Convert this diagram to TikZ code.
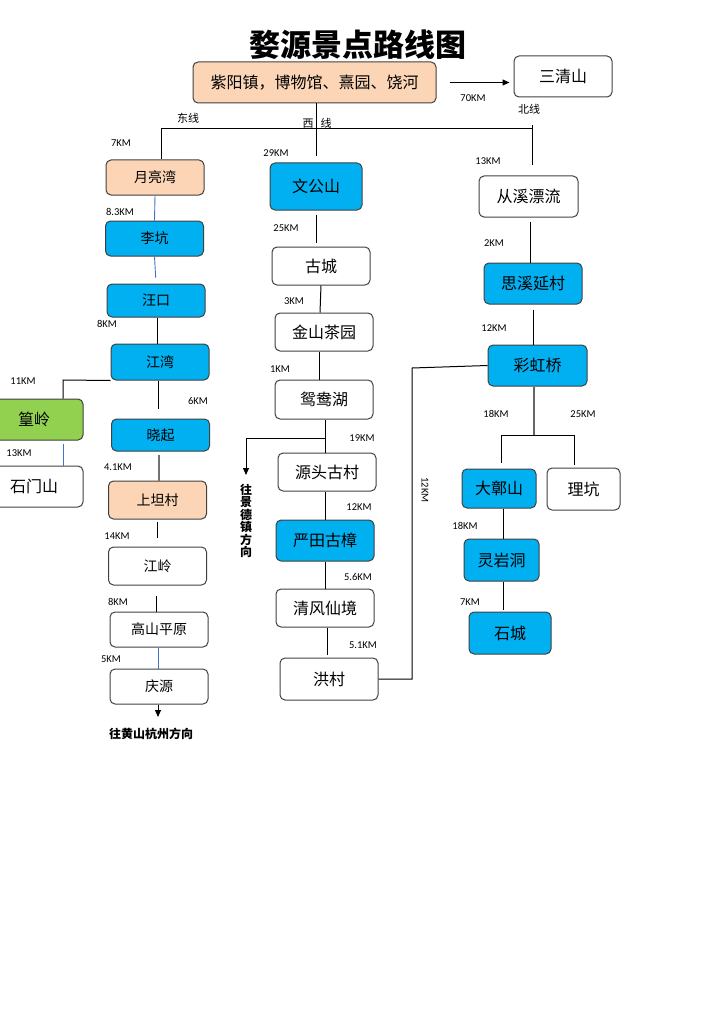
\documentclass[tikz,border=0pt]{standalone}
\usepackage{fontspec}
\setmainfont{Carlito}
\newfontfamily\cjk{Noto Sans CJK SC}
\usetikzlibrary{arrows.meta}
\definecolor{peach}{HTML}{FBD5B5}
\definecolor{sky}{HTML}{00B0F0}
\definecolor{leaf}{HTML}{92D050}
\definecolor{edge}{HTML}{404040}
\definecolor{bline}{HTML}{4472C4}

\begin{document}
\begin{tikzpicture}[x=1pt, y=-1pt,
    spot/.style={draw=edge, line width=1pt, rounded corners=5pt, inner sep=0pt,
        minimum width=98pt, minimum height=38pt, font=\cjk\fontsize{16}{18}\selectfont},
    small/.style={font=\cjk\fontsize{14}{16}\selectfont},
    km/.style={font=\fontsize{10.5}{12}\selectfont, inner sep=0pt},
    lbl/.style={font=\cjk\fontsize{11}{13}\selectfont, inner sep=0pt},
    link/.style={line width=1pt},
    blink/.style={bline, line width=0.9pt},
    arr/.style={-{Triangle[length=7pt,width=6pt]}, line width=1pt}
]
\useasboundingbox (0,0) rectangle (715,1011);

\node[font=\cjk\bfseries\fontsize{31}{34}\selectfont] (title) at (358,45) {婺源景点路线图};

% start and north line
\node[spot, fill=peach, minimum width=243pt, minimum height=41pt] (zyz) at (314.5,82.5) {紫阳镇，博物馆、熹园、饶河};
\node[spot, minimum height=41pt] (sanqing) at (563,76.5) {三清山};
\draw[arr, shorten <=13pt, shorten >=4pt] (zyz.east) -- (zyz.east -| sanqing.west);
\node[km] (k70) at (473,98) {70KM};
\node[lbl] (beixian) at (529,109) {北线};

% split
\coordinate (east) at (161,129);
\coordinate (north) at (532,129);
\draw[link] (east) -- (north);
\draw[link] (north) -- ++(0,-4);
\node[lbl] (dongxian) at (188,118) {东线};
\node[lbl] (xixian) at (317,123) {西\hspace{7pt}线};

% east line
\node[spot, small, fill=peach, minimum height=35pt] (yueliang) at (155,177.5) {月亮湾};
\node[spot, small, fill=sky, minimum height=35pt] (likeng) at (154.5,238.5) {李坑};
\node[spot, small, fill=sky, minimum height=33pt] (wangkou) at (156,300.5) {汪口};
\node[spot, small, fill=sky, minimum height=36pt] (jiangwan) at (160,362) {江湾};
\node[spot, fill=leaf, minimum height=41pt] (huangling) at (34,419.5) {篁岭};
\node[spot, minimum height=41pt] (shimen) at (34,486.5) {石门山};
\node[spot, small, fill=sky, minimum height=32pt] (xiaoqi) at (160.5,435) {晓起};
\node[spot, small, fill=peach] (shangtan) at (157.5,500) {上坦村};
\node[spot, small] (jiangling) at (157.5,566) {江岭};
\node[spot, small, minimum height=35pt] (gaoshan) at (159,629.5) {高山平原};
\node[spot, small, minimum height=35pt] (qingyuan) at (159,686.5) {庆源};
\coordinate (hsdir) at (158,717);
\node[font=\cjk\bfseries\fontsize{12}{14}\selectfont] (hstext) at (151,734) {往黄山杭州方向};

\draw[link] (east) -- (east |- yueliang.north);
\draw[blink] (yueliang.south) -- (likeng.north);
\draw[blink, shorten >=6pt] (likeng.south) -- (wangkou.north);
\draw[link] (wangkou.south -| 157,0) -- (jiangwan.north -| 157,0);
\coordinate (hl) at (63,380);
\draw[link] (jiangwan.south west) -- (hl) -- (hl |- huangling.north);
\draw[blink, shorten <=3pt] (hl |- huangling.south) -- (hl |- shimen.north);
\draw[link, shorten >=10pt] (jiangwan.south -| 158,0) -- (xiaoqi.north -| 158,0);
\draw[link, black!55, line width=1.5pt, shorten <=3pt] (xiaoqi.south -| 159,0) -- (shangtan.north -| 159,0);
\draw[link, shorten <=2pt, shorten >=9pt] (shangtan.south) -- (jiangling.north);
\draw[link, shorten <=10pt] (jiangling.south -| 156,0) -- (gaoshan.north -| 156,0);
\draw[blink] (gaoshan.south -| 158,0) -- (qingyuan.north -| 158,0);
\draw[arr] (qingyuan.south -| hsdir) -- (hsdir);

\node[km] (k7) at (121,143) {7KM};
\node[km] (k83) at (120,212) {8.3KM};
\node[km] (k8a) at (107,324) {8KM};
\node[km] (k11) at (23,381) {11KM};
\node[km] (k6) at (198,401) {6KM};
\node[km] (k13a) at (19,453) {13KM};
\node[km] (k41) at (118,467) {4.1KM};
\node[km] (k14) at (117,536) {14KM};
\node[km] (k8b) at (118,602) {8KM};
\node[km] (k5) at (111,659) {5KM};

% west line
\node[spot, fill=sky, minimum width=92pt, minimum height=47pt] (wengong) at (316,186.5) {文公山};
\node[spot] (gucheng) at (321,266) {古城};
\node[spot] (jinshan) at (324,332) {金山茶园};
\node[spot, minimum height=39pt] (yuanyang) at (324,399.5) {鸳鸯湖};
\node[spot] (yuantou) at (327,472) {源头古村};
\node[spot, fill=sky, minimum height=41pt] (yantian) at (325,540.5) {严田古樟};
\node[spot] (qingfeng) at (325,608) {清风仙境};
\node[spot, minimum height=42pt] (hongcun) at (329,679) {洪村};

\draw[link, shorten >=6pt] (zyz.south -| wengong.north) -- (wengong.north);
\draw[link, shorten <=4pt, shorten >=4pt] (wengong.south) -- (wengong.south |- gucheng.north);
\draw[link] (gucheng.south) -- (jinshan.north -| 320,0);
\draw[link] (jinshan.south -| 319,0) -- (yuanyang.north -| 319,0);
\coordinate (wj) at (325,438);
\coordinate (wjturn) at (246,438);
\coordinate (wjend) at (246,475);
\draw[link] (yuanyang.south -| wj) -- (yuantou.north -| wj);
\draw[arr] (wj) -- (wjturn) -- (wjend);
\node[font=\cjk\bfseries\fontsize{12}{12.5}\selectfont, align=center, inner sep=0pt] (jdztext) at (246,521)
    {往\\景\\德\\镇\\方\\向};
\draw[link] (yuantou.south -| yantian.north) -- (yantian.north);
\draw[link] (yantian.south) -- (qingfeng.north);
\draw[link, shorten >=3pt] (qingfeng.south -| 327,0) -- (hongcun.north -| 327,0);

\node[km] (k29) at (276,153) {29KM};
\node[km] (k25a) at (286,228) {25KM};
\node[km] (k3) at (294,301) {3KM};
\node[km] (k1) at (280,369) {1KM};
\node[km] (k19) at (362,438) {19KM};
\node[km] (k12a) at (359,507) {12KM};
\node[km] (k56) at (358,577) {5.6KM};
\node[km] (k51) at (363,645) {5.1KM};

% north line
\node[spot, minimum width=99pt, minimum height=41pt] (congxi) at (528.5,196.5) {从溪漂流};
\node[spot, fill=sky, minimum height=41pt] (sixi) at (533,283.5) {思溪延村};
\node[spot, fill=sky, minimum width=99pt, minimum height=41pt] (caihong) at (537.5,365.5) {彩虹桥};
\node[spot, fill=sky, minimum width=74pt, minimum height=39pt] (dazhang) at (499,488.5) {大鄣山};
\node[spot, minimum width=73pt, minimum height=42pt] (likeng2) at (583.5,489) {理坑};
\node[spot, fill=sky, minimum width=75pt, minimum height=42pt] (lingyan) at (501.5,560) {灵岩洞};
\node[spot, fill=sky, minimum width=82pt, minimum height=42pt] (shicheng) at (510,633) {石城};

\draw[link, shorten >=10pt] (north) -- (north |- congxi.north);
\draw[link, shorten <=4pt] (congxi.south -| 530,0) -- (sixi.north -| 530,0);
\draw[link, shorten <=5pt] (sixi.south) -- (sixi.south |- caihong.north);
\coordinate (rl) at (501,435);
\coordinate (rr) at (574,435);
\draw[link, black!60, line width=1.3pt] (caihong.south -| 534,0) -- (534,435);
\draw[link] (rl) -- (rr);
\draw[link, shorten >=6pt] (rl) -- (rl |- dazhang.north);
\draw[link, shorten >=3pt] (rr) -- (rr |- likeng2.north);
\draw[link] (dazhang.south -| 503,0) -- (lingyan.north -| 503,0);
\draw[link, shorten >=2pt] (lingyan.south -| 503,0) -- (shicheng.north -| 503,0);

% west back to rainbow bridge
\coordinate (hc) at (412,368);
\draw[link] (hongcun.east) -| (hc) -- (caihong.west);
\node[km, rotate=-90] (k12c) at (425,490) {12KM};

\node[km] (k13b) at (488,161) {13KM};
\node[km] (k2) at (494,243) {2KM};
\node[km] (k12b) at (494,328) {12KM};
\node[km] (k18a) at (496,414) {18KM};
\node[km] (k25b) at (583,414) {25KM};
\node[km] (k18b) at (465,526) {18KM};
\node[km] (k7b) at (470,602) {7KM};
\end{tikzpicture}
\end{document}
